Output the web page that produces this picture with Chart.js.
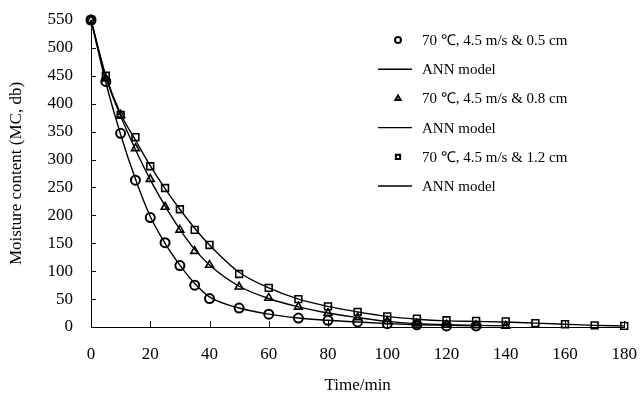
<!DOCTYPE html>
<html>
<head>
<meta charset="utf-8">
<script src="https://cdn.jsdelivr.net/npm/chart.js@4/dist/chart.umd.min.js"></script>
<style>
  html, body { margin: 0; padding: 0; background: #fff; }
  #wrap { width: 641px; height: 400px; }
</style>
</head>
<body>
<div id="wrap"><canvas id="grafico"></canvas></div>
<script>
// ================= DATOS =================
const tiempoA = [0, 5, 10, 15, 20, 25, 30, 35, 40, 50, 60, 70, 80, 90, 100, 110, 120, 130];
const tiempoB = [0, 5, 10, 15, 20, 25, 30, 35, 40, 50, 60, 70, 80, 90, 100, 110, 120, 130, 140];
const tiempoC = [0, 5, 10, 15, 20, 25, 30, 35, 40, 50, 60, 70, 80, 90, 100, 110, 120, 130, 140, 150, 160, 170, 180];

const exp05 = [550, 440, 347, 263, 196, 151, 110, 75, 51, 34, 23, 16, 12, 9, 6, 4, 2, 2];
const ann05 = [550, 438, 345, 265, 198, 150, 111, 78, 54, 34, 23, 16, 12, 9, 6, 4, 3, 2];
const exp08 = [550, 445, 380, 320, 265, 215, 174, 136, 111, 72, 52, 36, 25, 17, 10, 6, 4, 3, 2];
const ann08 = [550, 448, 378, 318, 264, 217, 175, 139, 111, 73, 51, 36, 25, 17, 10, 6, 4, 3, 2];
const exp12 = [550, 450, 380, 340, 288, 249, 211, 174, 147, 95, 70, 50, 37, 27, 19, 15, 12, 11, 10, 7, 5, 3, 2];
const ann12 = [550, 450, 382, 335, 289, 248, 211, 177, 147, 98, 70, 50, 37, 27, 19, 14, 11, 10, 9, 7, 5, 3, 2];

const etiquetas = [
    "70 \u2103, 4.5 m/s & 0.5 cm", "ANN model",
    "70 \u2103, 4.5 m/s & 0.8 cm", "ANN model",
    "70 \u2103, 4.5 m/s & 1.2 cm", "ANN model"
];

const ticksX = [0, 20, 40, 60, 80, 100, 120, 140, 160, 180];
const ticksY = [0, 50, 100, 150, 200, 250, 300, 350, 400, 450, 500, 550];
const FUENTE = "'Liberation Serif', 'Times New Roman', serif";

const puntos = (xs, ys) => xs.map((x, i) => ({ x, y: ys[i] }));

function serieExp(label, xs, ys, estilo, radio, grosor) {
    return {
        label,
        data: puntos(xs, ys),
        showLine: false,
        clip: false,
        pointStyle: estilo,
        pointRadius: radio,
        pointBorderWidth: grosor,
        pointBorderColor: "#000",
        pointBackgroundColor: "rgba(0,0,0,0)",
        borderColor: "#000",
        order: 1
    };
}

function serieAnn(label, xs, ys) {
    return {
        label,
        data: puntos(xs, ys),
        showLine: true,
        clip: false,
        borderColor: "#000",
        borderWidth: 1.4,
        pointRadius: 0,
        cubicInterpolationMode: "monotone",
        order: 2
    };
}

// ================= PLUGINS =================
// Leyenda dibujada dentro del área del gráfico (columna a la derecha)
const leyendaInterna = {
    id: "leyendaInterna",
    afterDraw(chart) {
        const ctx = chart.ctx;
        const x0 = 398, y0 = 40, paso = 29.2;
        ctx.save();
        ctx.font = "15px " + FUENTE;
        ctx.textBaseline = "middle";
        chart.data.datasets.forEach((ds, i) => {
            const y = y0 + i * paso;
            ctx.strokeStyle = "#000";
            if (ds.showLine) {
                ctx.lineWidth = 1.4;
                ctx.beginPath();
                ctx.moveTo(378, y);
                ctx.lineTo(412, y);
                ctx.stroke();
            } else {
                ctx.fillStyle = "rgba(0,0,0,0)";
                ctx.lineWidth = 2;
                Chart.helpers.drawPoint(ctx, {
                    pointStyle: ds.pointStyle,
                    radius: 3,
                    borderWidth: 2,
                    rotation: 0
                }, x0, y);
            }
            ctx.fillStyle = "#000";
            ctx.fillText(ds.label, 422, y + 1);
        });
        ctx.restore();
    }
};

// Marcas de los ejes hacia adentro
const marcasEjes = {
    id: "marcasEjes",
    afterDraw(chart) {
        const ctx = chart.ctx;
        const { x: sx, y: sy } = chart.scales;
        const area = chart.chartArea;
        ctx.save();
        ctx.strokeStyle = "#000";
        ctx.lineWidth = 1;
        ticksX.forEach(v => {
            const px = Math.round(sx.getPixelForValue(v)) + 0.5;
            ctx.beginPath();
            ctx.moveTo(px, area.bottom);
            ctx.lineTo(px, area.bottom - 6);
            ctx.stroke();
        });
        ticksY.forEach(v => {
            const py = Math.round(sy.getPixelForValue(v)) + 0.5;
            ctx.beginPath();
            ctx.moveTo(area.left, py);
            ctx.lineTo(area.left + 5, py);
            ctx.stroke();
        });
        ctx.restore();
    }
};

// ================= GRÁFICO =================
new Chart(document.getElementById("grafico"), {
    type: "scatter",
    data: {
        datasets: [
            serieExp(etiquetas[0], tiempoA, exp05, "circle", 4.5, 2),
            serieAnn(etiquetas[1], tiempoA, ann05),
            serieExp(etiquetas[2], tiempoB, exp08, "triangle", 4.5, 1.6),
            serieAnn(etiquetas[3], tiempoB, ann08),
            serieExp(etiquetas[4], tiempoC, exp12, "rect", 4.8, 1.6),
            serieAnn(etiquetas[5], tiempoC, ann12)
        ]
    },
    options: {
        responsive: true,
        maintainAspectRatio: false,
        animation: false,
        layout: { padding: { top: 20, right: 14, left: 0, bottom: 0 } },
        plugins: {
            legend: { display: false },
            tooltip: { enabled: false }
        },
        scales: {
            x: {
                type: "linear",
                min: 0,
                max: 180,
                afterBuildTicks: s => { s.ticks = ticksX.map(v => ({ value: v })); },
                afterFit: s => { s.height = 73; },
                ticks: { color: "#000", font: { family: FUENTE, size: 17 }, padding: 4, maxRotation: 0 },
                grid: { display: true, drawOnChartArea: false, drawTicks: true, tickLength: 13, tickColor: "rgba(0,0,0,0)" },
                border: { color: "#000", width: 1 },
                title: { display: true, text: "Time/min", color: "#000", font: { family: FUENTE, size: 17 }, padding: { top: 12 } }
            },
            y: {
                min: 0,
                max: 550,
                afterBuildTicks: s => { s.ticks = ticksY.map(v => ({ value: v })); },
                afterFit: s => { s.width = 91; },
                ticks: { color: "#000", font: { family: FUENTE, size: 17 }, padding: 4 },
                grid: { display: true, drawOnChartArea: false, drawTicks: true, tickLength: 14, tickColor: "rgba(0,0,0,0)" },
                border: { color: "#000", width: 1 },
                title: { display: true, text: "Moisture content (MC, db)", color: "#000", font: { family: FUENTE, size: 17 }, padding: { top: 6, bottom: 6 } }
            }
        }
    },
    plugins: [leyendaInterna, marcasEjes]
});
</script>
</body>
</html>
